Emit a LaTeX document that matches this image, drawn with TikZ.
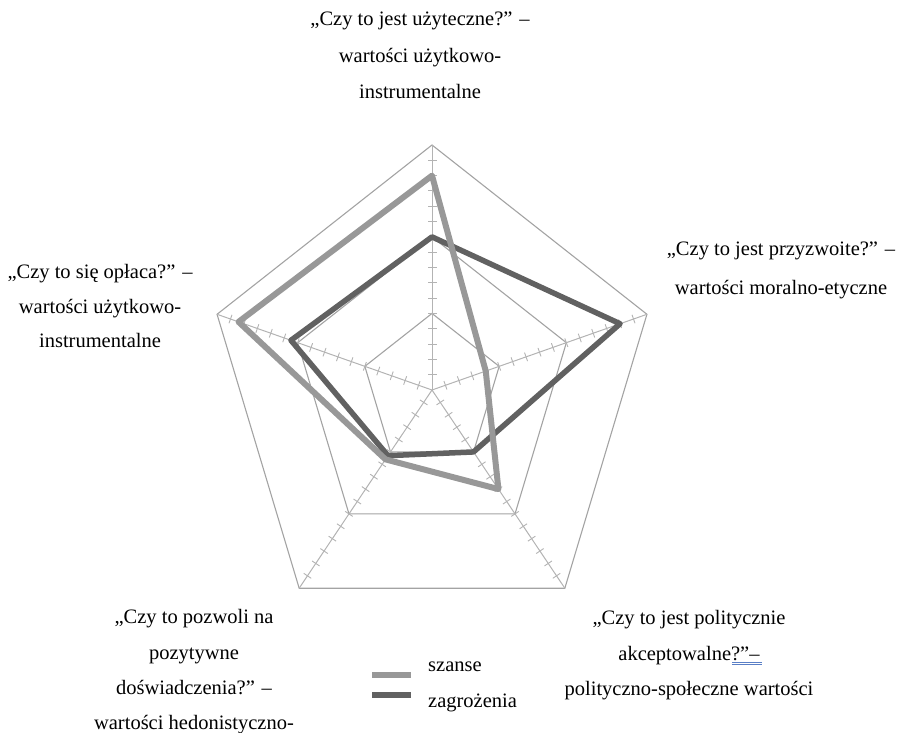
\documentclass[tikz,border=0pt]{standalone}
\usepackage{fontspec}
\setmainfont{Liberation Serif}
\usetikzlibrary{calc}
\definecolor{gridgray}{HTML}{A3A3A3}
\definecolor{axisgray}{HTML}{B3B3B3}
\definecolor{chancegray}{HTML}{989898}
\definecolor{threatgray}{HTML}{616161}
\definecolor{spellblue}{HTML}{5A7FC6}
\begin{document}
\begin{tikzpicture}[x=1pt,y=-1pt,
  ring/.style={draw=gridgray, line width=1.1pt},
  spoke/.style={draw=axisgray, line width=1pt},
  tickmark/.style={draw=axisgray, line width=0.9pt},
  chance/.style={draw=chancegray, line width=6pt, line join=round},
  threat/.style={draw=threatgray, line width=5.5pt, line join=round},
  legline/.style={line width=6.5pt},
  lbl/.style={font=\fontsize{20.5}{37}\selectfont, anchor=base, inner sep=0pt},
  leglbl/.style={font=\fontsize{20.5}{37}\selectfont, anchor=base west, inner sep=0pt},
]
\useasboundingbox (0,0) rectangle (897,733);

% radar chart: five axes, scale 0..16 (minor step 1, rings at 5, 10, 16)
\begin{scope}[shift={(432,390)}, x=14.125pt, y=15.3125pt]
  \coordinate (O) at (0,0);
  \foreach \n/\a in {u/90, p/18, k/-54, h/-126, o/162} {
    \coordinate (ax-\n) at (\a:16);
    \coordinate (mid-\n) at (\a:10);
    \coordinate (in-\n) at (\a:5);
  }
  % grid rings
  \draw[ring] (ax-u) -- (ax-p) -- (ax-k) -- (ax-h) -- (ax-o) -- cycle;
  \draw[ring] (mid-u) -- (mid-p) -- (mid-k) -- (mid-h) -- (mid-o) -- cycle;
  \draw[ring] (in-u) -- (in-p) -- (in-k) -- (in-h) -- (in-o) -- cycle;
  % spokes with minor tick marks
  \foreach \n/\a in {u/90, p/18, k/-54, h/-126, o/162} {
    \draw[spoke] (O) -- (ax-\n);
    \foreach \k in {1,...,15} {
      \path (\a:\k) coordinate (t);
      \draw[tickmark] ($(t)!4.5pt!90:(O)$) -- ($(t)!4.5pt!-90:(O)$);
    }
  }
  % data series
  \coordinate (z-u) at (90:10);
  \coordinate (z-p) at (18:14);
  \coordinate (z-k) at (-54:5);
  \coordinate (z-h) at (-126:5.3);
  \coordinate (z-o) at (162:10.5);
  \coordinate (s-u) at (90:14);
  \coordinate (s-p) at (18:4);
  \coordinate (s-k) at (-54:8);
  \coordinate (s-h) at (-126:5.6);
  \coordinate (s-o) at (162:14.4);
  \draw[threat] (z-u) -- (z-p) -- (z-k) -- (z-h) -- (z-o) -- cycle;
  \draw[chance] (s-u) -- (s-p) -- (s-k) -- (s-h) -- (s-o) -- cycle;
\end{scope}

% axis labels
\node[lbl] (u1) at (420,26) {„Czy to jest użyteczne?” –};
\node[lbl] (u2) at (420,63) {wartości użytkowo-};
\node[lbl] (u3) at (420,99) {instrumentalne};

\node[lbl] (p1) at (781,255) {„Czy to jest przyzwoite?” –};
\node[lbl] (p2) at (781,294) {wartości moralno-etyczne};

\node[lbl] (o1) at (100,278) {„Czy to się opłaca?” –};
\node[lbl] (o2) at (100,313) {wartości użytkowo-};
\node[lbl] (o3) at (100,347) {instrumentalne};

\node[lbl] (h1) at (194,623) {„Czy to pozwoli na};
\node[lbl] (h2) at (194,659) {pozytywne};
\node[lbl] (h3) at (194,694) {doświadczenia?” –};
\node[lbl] (h4) at (194,729) {wartości hedonistyczno-};

\node[lbl] (k1) at (689,624) {„Czy to jest politycznie};
\node[lbl] (k2) at (689,660) {akceptowalne?”–};
\node[lbl] (k3) at (689,695) {polityczno-społeczne wartości};

% spelling marker under the end of the second line
\coordinate (sp-a) at (732,662);
\coordinate (sp-b) at (762,662);
\coordinate (sp-c) at (732,664.8);
\coordinate (sp-d) at (762,664.8);
\draw[spellblue, line width=0.9pt] (sp-a) -- (sp-b) (sp-c) -- (sp-d);

% legend
\coordinate (ls-a) at (372,675);
\coordinate (ls-b) at (411,675);
\coordinate (lz-a) at (372,695);
\coordinate (lz-b) at (411,695);
\draw[legline, chancegray] (ls-a) -- (ls-b);
\draw[legline, threatgray] (lz-a) -- (lz-b);
\node[leglbl] (ls) at (428,671) {szanse};
\node[leglbl] (lz) at (428,707) {zagrożenia};
\end{tikzpicture}
\end{document}
